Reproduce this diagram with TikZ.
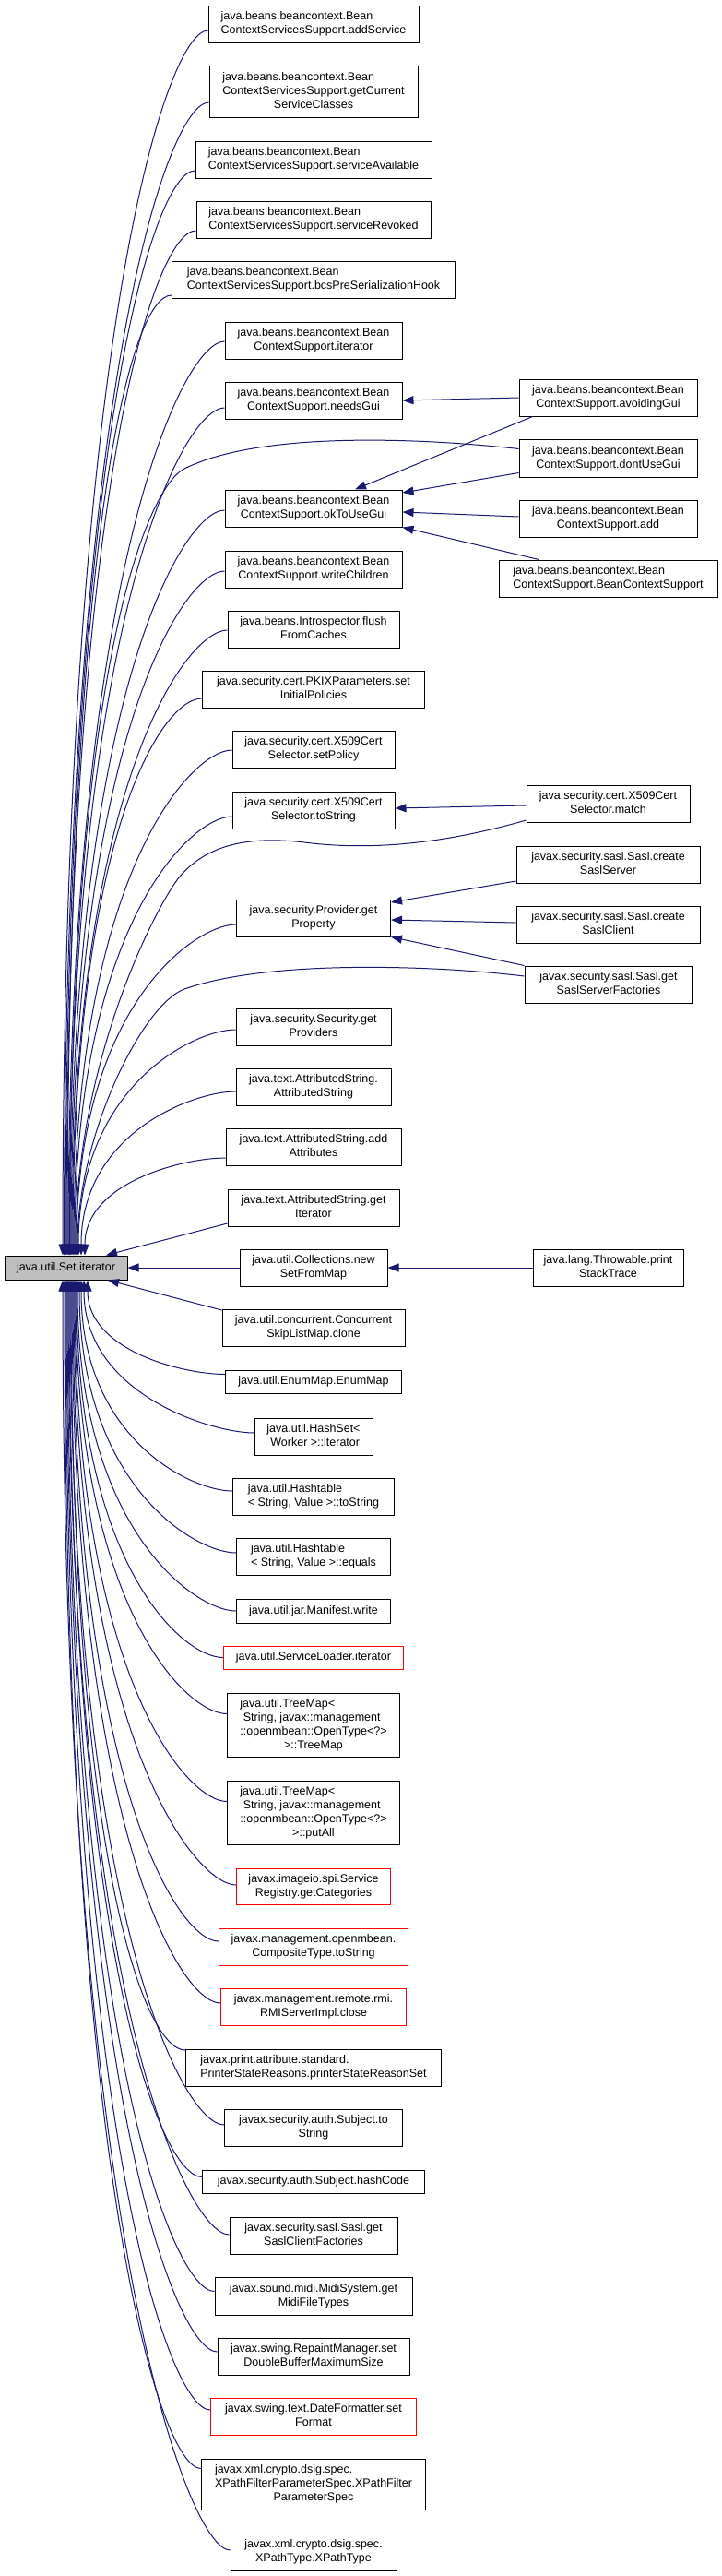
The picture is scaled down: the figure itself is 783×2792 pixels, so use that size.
\documentclass[tikz,border=0pt]{standalone}
\usepackage{fontspec}
\setmainfont{Liberation Sans}
\usetikzlibrary{arrows.meta,calc}
\definecolor{edgecol}{HTML}{191970}
\definecolor{graybox}{HTML}{BFBFBF}
\newcommand{\mlab}[2]{\begin{tabular}{@{}l@{}}#1\\\multicolumn{1}{@{}c@{}}{#2}\end{tabular}}
\newcommand{\toSI}[4]{%
  \draw[calledge] let \p1=([yshift=#2]#1.west), \p2=([xshift=#4]si.#3) in
    (\p1) .. controls ({\x1-45pt},\y1) and (\x2,{(\y2)+0.75*((\y1)-(\y2))}) .. (\p2);}
\begin{document}
\begin{tikzpicture}[x=1pt,y=-1pt,
  fn/.style={draw=black, line width=1pt, rectangle, inner sep=0pt, font=\fontsize{12.5}{15}\selectfont},
  fnred/.style={fn, draw=red},
  calledge/.style={draw=edgecol, line width=1pt, -{Triangle[length=12pt,width=9pt]}}]
\fill[white] (0,0) rectangle (783,2792);
\useasboundingbox (0,0) rectangle (783,2792);

% target
\node[fn, fill=graybox, minimum width=133pt, minimum height=26pt] (si) at (71.5,1374) {java.util.Set.iterator};

% middle column
\node[fn, minimum width=228pt, minimum height=40pt] (n1) at (340,26) {\mlab{java.beans.beancontext.Bean}{ContextServicesSupport.addService}};
\node[fn, minimum width=226pt, minimum height=56pt] (n2) at (340,99) {\mlab{java.beans.beancontext.Bean\\ContextServicesSupport.getCurrent}{ServiceClasses}};
\node[fn, minimum width=256pt, minimum height=40pt] (n3) at (340,173) {\mlab{java.beans.beancontext.Bean}{ContextServicesSupport.serviceAvailable}};
\node[fn, minimum width=254pt, minimum height=40pt] (n4) at (340,238) {\mlab{java.beans.beancontext.Bean}{ContextServicesSupport.serviceRevoked}};
\node[fn, minimum width=307pt, minimum height=40pt] (n5) at (340,303) {\mlab{java.beans.beancontext.Bean}{ContextServicesSupport.bcsPreSerializationHook}};
\node[fn, minimum width=192pt, minimum height=40pt] (n6) at (340,369) {\mlab{java.beans.beancontext.Bean}{ContextSupport.iterator}};
\node[fn, minimum width=192pt, minimum height=40pt] (n7) at (340,434) {\mlab{java.beans.beancontext.Bean}{ContextSupport.needsGui}};
\node[fn, minimum width=192pt, minimum height=40pt] (n8) at (340,551) {\mlab{java.beans.beancontext.Bean}{ContextSupport.okToUseGui}};
\node[fn, minimum width=192pt, minimum height=40pt] (n9) at (340,617) {\mlab{java.beans.beancontext.Bean}{ContextSupport.writeChildren}};
\node[fn, minimum width=186pt, minimum height=40pt] (n10) at (340,682) {\mlab{java.beans.Introspector.flush}{FromCaches}};
\node[fn, minimum width=241pt, minimum height=40pt] (n11) at (340,747) {\mlab{java.security.cert.PKIXParameters.set}{InitialPolicies}};
\node[fn, minimum width=176pt, minimum height=40pt] (n12) at (340,812) {\mlab{java.security.cert.X509Cert}{Selector.setPolicy}};
\node[fn, minimum width=176pt, minimum height=40pt] (n13) at (340,878) {\mlab{java.security.cert.X509Cert}{Selector.toString}};
\node[fn, minimum width=167pt, minimum height=40pt] (n14) at (340,995) {\mlab{java.security.Provider.get}{Property}};
\node[fn, minimum width=168pt, minimum height=40pt] (n15) at (340,1113) {\mlab{java.security.Security.get}{Providers}};
\node[fn, minimum width=168pt, minimum height=40pt] (n16) at (340,1178) {\mlab{java.text.AttributedString.}{AttributedString}};
\node[fn, minimum width=190pt, minimum height=40pt] (n17) at (340,1243) {\mlab{java.text.AttributedString.add}{Attributes}};
\node[fn, minimum width=186pt, minimum height=40pt] (n18) at (340,1309) {\mlab{java.text.AttributedString.get}{Iterator}};
\node[fn, minimum width=160pt, minimum height=40pt] (n19) at (340,1374) {\mlab{java.util.Collections.new}{SetFromMap}};
\node[fn, minimum width=198pt, minimum height=40pt] (n20) at (340,1439) {\mlab{java.util.concurrent.Concurrent}{SkipListMap.clone}};
\node[fn, minimum width=191pt, minimum height=25pt] (n21) at (340,1497.5) {java.util.EnumMap.EnumMap};
\node[fn, minimum width=128pt, minimum height=40pt] (n22) at (340,1557) {\mlab{java.util.HashSet<}{\ Worker >::iterator}};
\node[fn, minimum width=175pt, minimum height=40pt] (n23) at (340,1622) {\mlab{java.util.Hashtable}{< String, Value >::toString}};
\node[fn, minimum width=167pt, minimum height=40pt] (n24) at (340,1687) {\mlab{java.util.Hashtable}{< String, Value >::equals}};
\node[fn, minimum width=167pt, minimum height=26pt] (n25) at (340,1746) {java.util.jar.Manifest.write};
\node[fnred, minimum width=195pt, minimum height=25pt] (n26) at (340,1796.5) {java.util.ServiceLoader.iterator};
\node[fn, minimum width=187pt, minimum height=69pt] (n27) at (340,1869.5) {\mlab{java.util.TreeMap<\\\ String, javax::management\\::openmbean::OpenType<?>}{>::TreeMap}};
\node[fn, minimum width=187pt, minimum height=69pt] (n28) at (340,1964.5) {\mlab{java.util.TreeMap<\\\ String, javax::management\\::openmbean::OpenType<?>}{>::putAll}};
\node[fnred, minimum width=167pt, minimum height=39pt] (n29) at (340,2045) {\mlab{javax.imageio.spi.Service}{Registry.getCategories}};
\node[fnred, minimum width=205pt, minimum height=40pt] (n30) at (340,2110) {\mlab{javax.management.openmbean.}{CompositeType.toString}};
\node[fnred, minimum width=201pt, minimum height=40pt] (n31) at (340,2175) {\mlab{javax.management.remote.rmi.}{RMIServerImpl.close}};
\node[fn, minimum width=277pt, minimum height=40pt] (n32) at (340,2241) {\mlab{javax.print.attribute.standard.}{PrinterStateReasons.printerStateReasonSet}};
\node[fn, minimum width=193pt, minimum height=40pt] (n33) at (340,2306) {\mlab{javax.security.auth.Subject.to}{String}};
\node[fn, minimum width=241pt, minimum height=25pt] (n34) at (340,2364.5) {javax.security.auth.Subject.hashCode};
\node[fn, minimum width=182pt, minimum height=40pt] (n35) at (340,2423) {\mlab{javax.security.sasl.Sasl.get}{SaslClientFactories}};
\node[fn, minimum width=214pt, minimum height=41pt] (n36) at (340,2488.5) {\mlab{javax.sound.midi.MidiSystem.get}{MidiFileTypes}};
\node[fn, minimum width=208pt, minimum height=40pt] (n37) at (340,2554) {\mlab{javax.swing.RepaintManager.set}{DoubleBufferMaximumSize}};
\node[fnred, minimum width=223pt, minimum height=40pt] (n38) at (340,2619) {\mlab{javax.swing.text.DateFormatter.set}{Format}};
\node[fn, minimum width=243pt, minimum height=55pt] (n39) at (340,2692.5) {\mlab{javax.xml.crypto.dsig.spec.\\XPathFilterParameterSpec.XPathFilter}{ParameterSpec}};
\node[fn, minimum width=180pt, minimum height=40pt] (n40) at (340,2766) {\mlab{javax.xml.crypto.dsig.spec.}{XPathType.XPathType}};

% right column
\node[fn, minimum width=193pt, minimum height=40pt] (r1) at (659.5,431) {\mlab{java.beans.beancontext.Bean}{ContextSupport.avoidingGui}};
\node[fn, minimum width=193pt, minimum height=41pt] (r2) at (659.5,496.5) {\mlab{java.beans.beancontext.Bean}{ContextSupport.dontUseGui}};
\node[fn, minimum width=193pt, minimum height=40pt] (r3) at (659.5,562) {\mlab{java.beans.beancontext.Bean}{ContextSupport.add}};
\node[fn, minimum width=237pt, minimum height=40pt] (r4) at (659.5,627) {\mlab{java.beans.beancontext.Bean}{ContextSupport.BeanContextSupport}};
\node[fn, minimum width=177pt, minimum height=40pt] (r5) at (659.5,871) {\mlab{java.security.cert.X509Cert}{Selector.match}};
\node[fn, minimum width=199pt, minimum height=40pt] (r6) at (659.5,937) {\mlab{javax.security.sasl.Sasl.create}{SaslServer}};
\node[fn, minimum width=199pt, minimum height=40pt] (r7) at (659.5,1002) {\mlab{javax.security.sasl.Sasl.create}{SaslClient}};
\node[fn, minimum width=182pt, minimum height=40pt] (r8) at (660,1067) {\mlab{javax.security.sasl.Sasl.get}{SaslServerFactories}};
\node[fn, minimum width=163pt, minimum height=40pt] (r9) at (659.5,1374) {\mlab{java.lang.Throwable.print}{StackTrace}};

% edges into Set.iterator from above
\toSI{n1}{-7pt}{north}{-3.5pt}
\toSI{n2}{-12pt}{north}{-2pt}
\toSI{n3}{-12pt}{north}{-0.5pt}
\toSI{n4}{-12pt}{north}{0.5pt}
\toSI{n5}{-17pt}{north}{1.5pt}
\toSI{n6}{-1pt}{north}{2.5pt}
\toSI{n7}{-8pt}{north}{3.5pt}
\toSI{n8}{-2pt}{north}{4.5pt}
\toSI{n9}{-2pt}{north}{5.5pt}
\toSI{n10}{-1pt}{north}{6.5pt}
\toSI{n11}{-10pt}{north}{7.5pt}
\toSI{n12}{-1pt}{north}{8.5pt}
\toSI{n13}{-7pt}{north}{9.5pt}
\toSI{n14}{-7pt}{north}{11.5pt}
\toSI{n15}{-3pt}{north}{13.5pt}
\toSI{n16}{-5pt}{north}{16.5pt}
\toSI{n17}{-12pt}{north}{20.5pt}
\draw[calledge] ([yshift=-17pt]n18.west) -- ([xshift=43.5pt]si.north);

% right column callers that also reach Set.iterator
\draw[calledge] ([yshift=10pt]r2.west) .. controls (450,474) and (280,468) .. (200,508)
   .. controls (160,528) and (75.5,721) .. ([xshift=4pt]si.north);
\draw[calledge] ([yshift=-18pt]r5.west) .. controls (480,915) and (400,922) .. (330,913)
   .. controls (270,906) and (225,915) .. (195,950)
   .. controls (170,980) and (82,1150) .. ([xshift=10.5pt]si.north);
\draw[calledge] ([yshift=9pt]r8.west) .. controls (470,1046) and (290,1040) .. (200,1072)
   .. controls (155,1088) and (84,1230) .. ([xshift=12.5pt]si.north);

% horizontal
\draw[calledge] (n19.west) -- (si.east);

% edges into Set.iterator from below
\draw[calledge] ([yshift=19pt]n20.west) -- ([xshift=45.5pt]si.south);
\toSI{n21}{8pt}{south}{23.5pt}
\toSI{n22}{4pt}{south}{19.5pt}
\toSI{n23}{6pt}{south}{16.5pt}
\toSI{n24}{4pt}{south}{14.5pt}
\toSI{n25}{0pt}{south}{12.5pt}
\toSI{n26}{0pt}{south}{11.5pt}
\toSI{n27}{12pt}{south}{10.5pt}
\toSI{n28}{12pt}{south}{9.5pt}
\toSI{n29}{2pt}{south}{8.5pt}
\toSI{n30}{6pt}{south}{7.5pt}
\toSI{n31}{4pt}{south}{6.5pt}
\toSI{n32}{19pt}{south}{5.5pt}
\toSI{n33}{3pt}{south}{4.5pt}
\toSI{n34}{5pt}{south}{3.5pt}
\toSI{n35}{1pt}{south}{2.5pt}
\toSI{n36}{5pt}{south}{1.5pt}
\toSI{n37}{5pt}{south}{0.5pt}
\toSI{n38}{7pt}{south}{-0.5pt}
\toSI{n39}{17pt}{south}{-1.5pt}
\toSI{n40}{2pt}{south}{-3.5pt}

% right-to-middle edges
\draw[calledge] (r1.west) -- (n7.east);
\draw[calledge] ([xshift=15pt]r1.south west) -- ([xshift=45pt]n8.north);
\draw[calledge] ([yshift=-16pt]r2.west) -- ([yshift=17pt]n8.east);
\draw[calledge] ([yshift=2pt]r3.west) -- ([yshift=-4pt]n8.east);
\draw[calledge] ([xshift=44pt]r4.north west) -- (n8.south east);
\draw[calledge] ([yshift=-2pt]r5.west) -- ([yshift=2pt]n13.east);
\draw[calledge] ([yshift=-18pt]r6.west) -- ([yshift=17pt]n14.east);
\draw[calledge] ([yshift=2pt]r7.west) -- ([yshift=-2pt]n14.east);
\draw[calledge] (r8.north west) -- (n14.south east);
\draw[calledge] (r9.west) -- (n19.east);
\end{tikzpicture}
\end{document}
